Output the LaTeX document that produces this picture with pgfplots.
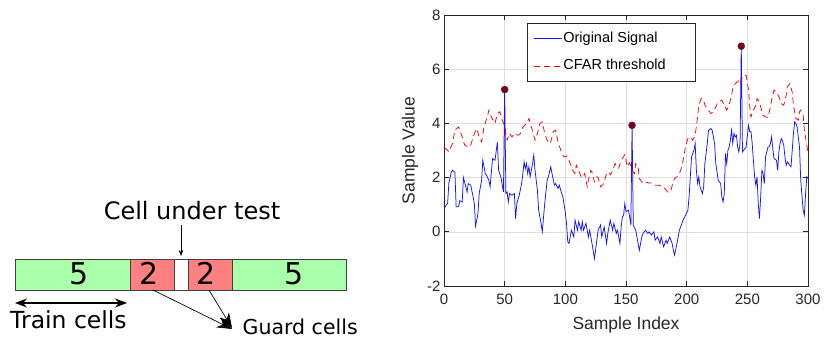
\documentclass[border=0pt]{standalone}
\usepackage{fontspec}
\setmainfont{Liberation Sans}
\newfontfamily\dejavu{DejaVu Sans}
\usepackage{pgfplots}
\usepackage{pgfplotstable}
\pgfplotsset{compat=1.18}
\usetikzlibrary{arrows.meta}
\definecolor{cellgreen}{RGB}{170,255,170}
\definecolor{cellred}{RGB}{255,128,128}
\definecolor{axgray}{RGB}{38,38,38}
\definecolor{gridgray}{RGB}{223,223,223}
\definecolor{peak}{RGB}{110,10,30}
\definecolor{sigblue}{RGB}{20,20,255}
\definecolor{thrred}{RGB}{255,0,0}

\pgfplotstableread{
x y
0 0.85
2 1.0
3 1.05
4 1.8
6 2.2
7 2.27
9 2.2
10 0.92
12 0.92
13 1.15
15 1.1
16 2.0
18 1.66
19 1.47
20 1.78
22 1.72
24 1.29
25 1.05
26 0.21
28 0.67
29 1.41
31 1.9
32 2.64
34 2.15
35 2.09
37 1.9
38 1.66
40 2.7
42 2.64
44 3.3
45 2.27
47 2.0
49 1.47
50 5.25
51 1.41
52 1.47
53 1.1
54 1.41
56 1.35
58 1.41
59 0.49
60 1.04
62 1.35
64 1.78
65 2.15
66 2.58
67 2.33
68 2.52
69 2.15
70 2.4
71 2.03
73 2.52
74 2.83
75 2.27
77 1.53
78 0.8
80 0.31
81 0.0
83 1.04
85 1.9
86 2.03
88 2.4
89 2.15
91 1.72
92 1.78
94 1.6
95 1.72
97 1.41
98 1.3
99 1.0
100 0.7
101 0.3
102 -0.37
103 -0.43
105 0.06
107 -0.19
108 0.43
110 0.06
111 0.37
113 0.06
114 0.37
115 0.06
117 0.31
119 -0.19
120 0.06
122 -0.43
124 -0.99
126 -0.3
127 0.06
129 0.25
130 -0.19
132 0.18
134 -0.43
135 -0.06
137 0.43
139 0.06
140 0.31
142 -0.06
143 0.06
145 -0.43
146 0.18
147 0.55
148 0.6
149 1.04
150 0.74
152 0.8
153 0.55
154 0.25
155 3.93
156 0.25
158 0.06
159 -0.19
161 -0.68
163 -0.19
164 -0.06
166 0.06
168 -0.06
169 0.0
171 -0.12
173 0.0
174 -0.31
176 -0.19
178 -0.43
179 -0.19
181 -0.55
183 -0.31
184 -0.43
186 -0.19
188 -0.43
189 -0.68
190 -0.86
192 -0.43
194 0.06
195 0.18
197 0.43
199 0.6
201 0.8
202 1.29
203 2.03
204 2.76
206 3.01
207 3.26
208 2.27
209 1.78
210 2.03
211 1.66
213 1.41
214 1.66
215 2.52
217 3.26
218 3.75
220 3.81
221 3.75
223 3.26
224 2.52
226 1.9
228 1.78
229 1.29
230 1.1
231 1.41
232 2.89
233 2.52
234 3.01
235 3.13
236 3.38
237 3.75
238 3.26
239 3.63
240 3.5
241 3.56
242 3.13
243 2.95
244 3.26
245 6.85
246 2.95
248 3.07
249 3.13
251 3.93
252 3.69
253 3.7
254 3.26
255 2.64
256 2.03
257 1.72
258 2.03
259 1.04
260 0.49
261 1.29
262 2.27
263 2.15
264 1.78
265 2.76
267 3.13
268 3.13
269 3.26
270 3.5
271 3.07
272 2.7
274 2.64
275 2.27
276 2.95
277 3.26
278 3.44
279 3.35
280 3.2
281 2.76
282 2.45
283 2.58
285 2.45
286 2.4
287 3.01
288 3.63
289 4.06
290 4.0
291 3.87
292 3.5
293 3.13
294 1.9
296 0.8
297 0.61
298 1.41
299 2.03
300 1.97
}\signaltable

\pgfplotstableread{
x y
0 3.1
2 3.05
4 2.95
7 3.26
9 3.75
12 3.87
15 3.5
17 3.2
20 3.13
22 3.2
25 3.63
27 3.81
29 3.5
31 3.32
33 3.87
36 4.3
37 4.49
39 4.24
42 4.0
44 4.36
46 4.43
48 4.12
50 3.9
52 3.38
54 3.63
56 3.5
58 3.63
61 3.56
63 3.63
65 3.87
68 4.0
70 4.18
72 3.87
75 3.38
77 3.63
79 4.0
81 4.06
83 3.63
86 3.26
88 3.32
90 3.69
92 3.75
94 3.32
97 2.9
99 2.76
101 2.8
103 2.64
104 2.52
106 2.27
108 2.15
109 2.46
111 2.27
113 2.03
114 2.0
116 2.15
118 1.66
119 1.9
121 2.27
122 2.2
124 1.84
126 2.03
127 2.0
129 1.66
131 1.75
132 1.85
134 2.15
136 2.2
137 2.1
139 2.27
141 2.52
142 2.45
144 2.35
146 2.64
147 2.7
149 2.85
151 2.4
153 2.55
155 2.27
157 2.15
158 2.52
160 2.4
161 1.97
164 1.78
166 1.84
169 1.8
171 1.8
174 1.72
177 1.72
180 1.66
182 1.6
185 1.44
187 1.53
188 1.7
190 1.97
192 2.03
194 2.15
196 2.4
198 2.85
199 3.15
201 3.44
202 3.5
204 3.44
205 3.38
207 3.56
209 4.24
210 4.67
212 4.92
214 4.86
215 4.67
218 4.49
220 4.36
222 4.43
224 4.61
226 4.8
229 4.86
231 4.67
233 4.49
235 4.67
237 5.04
238 5.29
240 5.47
242 5.53
243 5.59
244 5.47
246 5.72
248 5.78
249 5.78
251 5.23
252 4.61
253 4.24
255 4.49
257 4.67
258 4.92
260 4.8
261 4.61
263 4.3
265 4.24
267 4.22
269 4.61
270 4.86
272 5.23
274 5.16
276 4.98
278 4.73
280 4.67
282 5.04
283 5.35
285 5.47
287 5.16
288 4.67
290 4.18
292 4.12
293 4.43
294 4.49
296 4.3
297 3.75
299 3.2
300 2.89
}\thresholdtable

\pgfplotstableread{
x y
50 5.25
155 3.93
245 6.85
}\peaktable

\begin{document}
\begin{tikzpicture}
\useasboundingbox (0,0) rectangle (824bp,-341bp);

% ---------- CFAR cell diagram ----------
\begin{scope}[x=1bp,y=-1bp]
\draw[fill=cellgreen, draw=black!75, line width=0.5bp] (15,259) rectangle (130,290);
\draw[fill=cellred, draw=black!75, line width=0.5bp] (130,259) rectangle (174.5,290);
\draw[fill=white, draw=black!75, line width=0.5bp] (174.5,259) rectangle (188,290);
\draw[fill=cellred, draw=black!75, line width=0.5bp] (188,259) rectangle (232,290);
\draw[fill=cellgreen, draw=black!75, line width=0.5bp] (232,259) rectangle (346,290);
\node[anchor=base, inner sep=0pt, font=\dejavu\fontsize{30bp}{30bp}\selectfont] at (79,284) {5};
\node[anchor=base, inner sep=0pt, font=\dejavu\fontsize{30bp}{30bp}\selectfont] at (149.5,284) {2};
\node[anchor=base, inner sep=0pt, font=\dejavu\fontsize{30bp}{30bp}\selectfont] at (206.5,284) {2};
\node[anchor=base, inner sep=0pt, font=\dejavu\fontsize{30bp}{30bp}\selectfont] at (294.5,284) {5};
\node[anchor=base, inner sep=0pt, font=\dejavu\fontsize{24bp}{24bp}\selectfont] at (192,219) {Cell under test};
\draw[-{Stealth[length=6bp,width=4.5bp]}, line width=0.5bp] (181,225) -- (181,256);
\draw[{Stealth[length=12bp,width=9bp]}-{Stealth[length=12bp,width=9bp]}, line width=1.3bp] (15,303) -- (127,303);
\node[anchor=base west, inner sep=0pt, font=\dejavu\fontsize{23.5bp}{24bp}\selectfont] at (10,328) {Train cells};
\draw[-{Stealth[length=15bp,width=11bp]}, line width=0.7bp] (153,290) -- (232,329);
\draw[-{Stealth[length=15bp,width=11bp]}, line width=0.7bp] (209,290) -- (232,328);
\node[anchor=base west, inner sep=0pt, font=\dejavu\fontsize{20.5bp}{21bp}\selectfont] at (242.5,334) {Guard cells};
\end{scope}

% ---------- CFAR plot ----------
\begin{axis}[
  at={(444bp,-286bp)}, anchor=south west,
  width=364bp, height=271bp, scale only axis,
  xmin=0, xmax=300, ymin=-2, ymax=8,
  xtick={0,50,...,300}, ytick={-2,0,...,8},
  xtick pos=both, ytick pos=both,
  grid=major,
  major grid style={gridgray, line width=0.6bp},
  axis line style={axgray, line width=0.7bp},
  tick style={axgray, line width=0.7bp},
  tick align=inside, major tick length=5bp,
  /pgf/number format/assume math mode=true,
  tick label style={font=\fontsize{15bp}{18bp}\selectfont, text=axgray},
  xticklabel style={yshift=-5bp},
  xlabel={Sample Index}, ylabel={Sample Value},
  label style={font=\fontsize{17.5bp}{20bp}\selectfont, text=axgray},
  xlabel style={at={(axis description cs:0.5,-0.1587)}, anchor=base},
  ylabel style={at={(axis description cs:-0.0934,0.5)}, anchor=center},
  legend style={at={(0.2274,0.9705)}, anchor=north west, draw=axgray,
    line width=0.7bp, fill=white,
    font=\fontsize{14.5bp}{17bp}\selectfont,
    nodes={text height=10.5bp, text depth=3bp, inner ysep=2.5bp, inner xsep=1.5bp},
    inner xsep=6bp, inner ysep=6bp, row sep=9bp},
  legend cell align=left,
  legend image code/.code={\draw[#1] (0bp,0bp) -- (28bp,0bp);},
]
\addplot[sigblue, line width=0.75bp] table[x=x,y=y] {\signaltable};
\addlegendentry{Original Signal}
\addplot[thrred, line width=0.75bp, dash pattern=on 6bp off 4bp] table[x=x,y=y] {\thresholdtable};
\addlegendentry{CFAR threshold\rule{22bp}{0pt}}
\addplot[only marks, mark=*, mark size=3.5bp, color=peak, forget plot] table[x=x,y=y] {\peaktable};
\end{axis}
\end{tikzpicture}
\end{document}
